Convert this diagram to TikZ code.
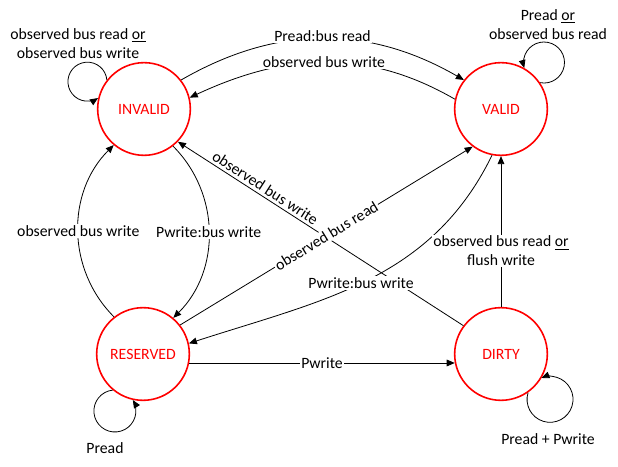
\documentclass[tikz,border=0pt]{standalone}
\usepackage{fontspec}
\setmainfont{Carlito}
\usepackage{tikz}
\usetikzlibrary{arrows.meta,positioning,calc}

\begin{document}
\begin{tikzpicture}[x=0.75pt, y=0.75pt,
  state/.style={circle, draw=red, line width=1.2pt, minimum size=69.5pt, inner sep=0pt,
    text=red, font=\fontsize{11.8}{13}\selectfont},
  trans/.style={-{Triangle[length=6pt,width=5pt]}, line width=0.6pt},
  lbl/.style={fill=white, inner sep=1pt, font=\fontsize{11.8}{14.25}\selectfont, align=center}]
  \useasboundingbox (0,0) rectangle (618,467);

  % States
  \node[state] (INVALID) at (144,358) {INVALID};
  \node[state] (VALID) at (501,358) {VALID};
  \node[state] (RESERVED) at (143,113) {RESERVED};
  \node[state] (DIRTY) at (501,113) {DIRTY};

  % INVALID <-> VALID
  \draw[trans] (INVALID.38) to[out=30, in=150] node[lbl, yshift=2pt] {Pread:bus read} (VALID.142);
  \draw[trans] (VALID.168) to[out=150, in=25] node[lbl] {observed bus write} (INVALID.14);

  % INVALID <-> RESERVED
  \draw[trans] (RESERVED.128) to[out=135, in=225] node[lbl] {observed bus write} (INVALID.230);
  \draw[trans] (INVALID.308) to[out=-45, in=45] node[lbl] {Pwrite:bus write} (RESERVED.50);

  % Crossing transitions
  \draw[trans] (DIRTY.143) -- node[lbl, fill=none, sloped, above=1.5pt, inner sep=0.5pt, pos=0.71] {observed bus write} (INVALID.-44);
  \draw[trans] (RESERVED.38) -- node[lbl, sloped] {observed bus read} (VALID.233);
  \draw[trans] (VALID.259) to[out=244, in=18] node[lbl, pos=0.52] {Pwrite:bus write} (RESERVED.13);

  % RESERVED -> DIRTY -> VALID
  \draw[trans] (RESERVED.-11) -- node[lbl] {Pwrite} (DIRTY.191);
  \draw[trans] (DIRTY.90) -- node[lbl, pos=0.37] {observed bus read \underline{or}\\flush write} (VALID.270);

  % Self loops
  \draw[trans] (INVALID.142) arc[start angle=5, end angle=303, radius=19.5];
  \draw[trans] (VALID.34) arc[start angle=259, end angle=555.5, radius=20.5];
  \draw[trans] (RESERVED.230) arc[start angle=96, end angle=391.5, radius=21];
  \draw[trans] (DIRTY.305) arc[start angle=163, end angle=471.8, radius=23];

  % Loop labels
  \node[lbl, fill=none] (invalidloop) at (78,423.5) {observed bus read \underline{or}\\observed bus write};
  \node[lbl, fill=none] (validloop) at (548,442.5) {Pread \underline{or}\\observed bus read};
  \node[lbl, fill=none] (reservedloop) at (105,19) {Pread};
  \node[lbl, fill=none] (dirtyloop) at (548,28) {Pread + Pwrite};

\end{tikzpicture}
\end{document}
